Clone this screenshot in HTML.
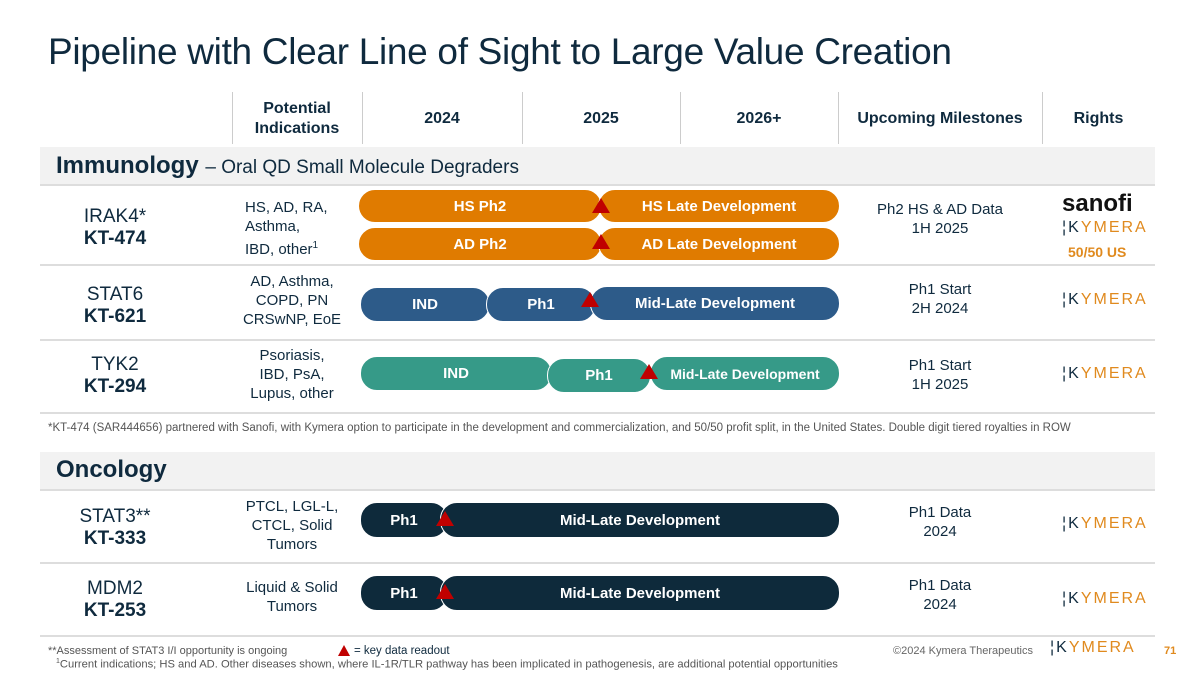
<!DOCTYPE html>
<html><head><meta charset="utf-8"><style>
*{margin:0;padding:0;box-sizing:border-box}
body{width:1200px;height:675px;background:#fff;position:relative;overflow:hidden;font-family:"Liberation Sans",sans-serif;color:#0f2a3e}
.a{position:absolute}
.c{text-align:center}
.hd{font-weight:bold;font-size:16px;line-height:20px;display:flex;align-items:center;justify-content:center;text-align:center}
.vl{position:absolute;width:1px;background:#ccc;top:92px;height:52px}
.hl{position:absolute;left:40px;width:1115px;height:2px;background:#ddd}
.band{position:absolute;left:40px;width:1115px;height:38px;background:#f2f2f2}
.bar{position:absolute;border-radius:17px;border:1.5px solid #fff;color:#fff;font-weight:bold;font-size:15px;display:flex;align-items:center;justify-content:center}
.or{background:#e07b00}.bl{background:#2d5b89}.tl{background:#369a88}.nv{background:#0e2a3b}
.tri{position:absolute;width:0;height:0;border-left:9px solid transparent;border-right:9px solid transparent;border-bottom:15px solid #c00000}
.nm{font-size:19px;line-height:22px;text-align:center}
.ind{font-size:15px;line-height:19px;text-align:center}
.ms{font-size:15px;line-height:19px;text-align:center}
.ky{font-size:16px;letter-spacing:2px;color:#e08a1e}
.ky b{color:#0f2a3e;font-weight:normal}
</style></head><body>
<div class="a" style="left:48px;top:31px;font-size:37px;letter-spacing:-0.3px;color:#0f2a3e">Pipeline with Clear Line of Sight to Large Value Creation</div>

<div class="vl" style="left:232px"></div><div class="vl" style="left:362px"></div><div class="vl" style="left:522px"></div><div class="vl" style="left:680px"></div><div class="vl" style="left:838px"></div><div class="vl" style="left:1042px"></div>
<div class="a hd" style="left:232px;top:96px;width:130px;height:46px">Potential<br>Indications</div>
<div class="a hd" style="left:362px;top:96px;width:160px;height:46px">2024</div>
<div class="a hd" style="left:522px;top:96px;width:158px;height:46px">2025</div>
<div class="a hd" style="left:680px;top:96px;width:158px;height:46px">2026+</div>
<div class="a hd" style="left:838px;top:96px;width:204px;height:46px">Upcoming Milestones</div>
<div class="a hd" style="left:1042px;top:96px;width:113px;height:46px">Rights</div>

<div class="band" style="top:147px"></div>
<div class="a" style="left:56px;top:152px;font-size:24px"><b>Immunology</b> <span style="font-size:19px">– Oral QD Small Molecule Degraders</span></div>
<div class="hl" style="top:184px"></div>

<!-- IRAK4 -->
<div class="a nm" style="left:40px;top:206px;width:150px">IRAK4*<br><b>KT-474</b></div>
<div class="a ind" style="left:245px;top:198px;width:120px;text-align:left">HS, AD, RA,<br>Asthma,<br>IBD, other<sup style="font-size:10px">1</sup></div>
<div class="bar or" style="left:358px;top:189px;width:244px;height:34px">HS Ph2</div>
<div class="bar or" style="left:598px;top:189px;width:242px;height:34px">HS Late Development</div>
<div class="bar or" style="left:358px;top:227px;width:244px;height:34px">AD Ph2</div>
<div class="bar or" style="left:598px;top:227px;width:242px;height:34px">AD Late Development</div>
<div class="tri" style="left:592px;top:198px"></div>
<div class="tri" style="left:592px;top:234px"></div>
<div class="a ms" style="left:838px;top:200px;width:204px">Ph2 HS &amp; AD Data<br>1H 2025</div>
<div class="a" style="left:1062px;top:190px;font-size:24px;font-weight:bold;color:#111">sanofi</div>
<div class="a ky" style="left:1062px;top:219px"><b>¦K</b>YMERA</div>
<div class="a" style="left:1068px;top:244px;font-size:14px;font-weight:bold;color:#e08a1e">50/50 US</div>
<div class="hl" style="top:264px"></div>

<!-- STAT6 -->
<div class="a nm" style="left:40px;top:284px;width:150px">STAT6<br><b>KT-621</b></div>
<div class="a ind" style="left:222px;top:272px;width:140px">AD, Asthma,<br>COPD, PN<br>CRSwNP, EoE</div>
<div class="bar bl" style="left:360px;top:287px;width:130px;height:35px">IND</div>
<div class="bar bl" style="left:486px;top:287px;width:110px;height:35px">Ph1</div>
<div class="bar bl" style="left:590px;top:286px;width:250px;height:35px">Mid-Late Development</div>
<div class="tri" style="left:581px;top:292px"></div>
<div class="a ms" style="left:838px;top:280px;width:204px">Ph1 Start<br>2H 2024</div>
<div class="a ky" style="left:1062px;top:291px"><b>¦K</b>YMERA</div>
<div class="hl" style="top:339px"></div>

<!-- TYK2 -->
<div class="a nm" style="left:40px;top:354px;width:150px">TYK2<br><b>KT-294</b></div>
<div class="a ind" style="left:222px;top:346px;width:140px">Psoriasis,<br>IBD, PsA,<br>Lupus, other</div>
<div class="bar tl" style="left:360px;top:356px;width:192px;height:35px">IND</div>
<div class="bar tl" style="left:547px;top:358px;width:104px;height:35px">Ph1</div>
<div class="bar tl" style="left:650px;top:356px;width:190px;height:35px;font-size:14px">Mid-Late Development</div>
<div class="tri" style="left:640px;top:364px"></div>
<div class="a ms" style="left:838px;top:356px;width:204px">Ph1 Start<br>1H 2025</div>
<div class="a ky" style="left:1062px;top:365px"><b>¦K</b>YMERA</div>
<div class="hl" style="top:412px"></div>

<div class="a" style="left:48px;top:422px;font-size:11.5px;color:#555;white-space:nowrap">*KT-474 (SAR444656) partnered with Sanofi, with Kymera option to participate in the development and commercialization, and 50/50 profit split, in the United States. Double digit tiered royalties in ROW</div>

<div class="band" style="top:452px"></div>
<div class="a" style="left:56px;top:456px;font-size:24px;font-weight:bold">Oncology</div>
<div class="hl" style="top:489px"></div>

<!-- STAT3 -->
<div class="a nm" style="left:40px;top:506px;width:150px">STAT3**<br><b>KT-333</b></div>
<div class="a ind" style="left:222px;top:497px;width:140px">PTCL, LGL-L,<br>CTCL, Solid<br>Tumors</div>
<div class="bar nv" style="left:360px;top:502px;width:88px;height:36px">Ph1</div>
<div class="bar nv" style="left:440px;top:502px;width:400px;height:36px">Mid-Late Development</div>
<div class="tri" style="left:436px;top:511px"></div>
<div class="a ms" style="left:838px;top:503px;width:204px">Ph1 Data<br>2024</div>
<div class="a ky" style="left:1062px;top:515px"><b>¦K</b>YMERA</div>
<div class="hl" style="top:562px"></div>

<!-- MDM2 -->
<div class="a nm" style="left:40px;top:578px;width:150px">MDM2<br><b>KT-253</b></div>
<div class="a ind" style="left:222px;top:578px;width:140px">Liquid &amp; Solid<br>Tumors</div>
<div class="bar nv" style="left:360px;top:575px;width:88px;height:36px">Ph1</div>
<div class="bar nv" style="left:440px;top:575px;width:400px;height:36px">Mid-Late Development</div>
<div class="tri" style="left:436px;top:584px"></div>
<div class="a ms" style="left:838px;top:576px;width:204px">Ph1 Data<br>2024</div>
<div class="a ky" style="left:1062px;top:590px"><b>¦K</b>YMERA</div>
<div class="hl" style="top:635px"></div>

<div class="a" style="left:48px;top:645px;font-size:11px;color:#555">**Assessment of STAT3 I/I opportunity is ongoing</div>
<div class="tri" style="left:338px;top:645px;border-left-width:6px;border-right-width:6px;border-bottom-width:11px"></div>
<div class="a" style="left:354px;top:645px;font-size:11.5px">= key data readout</div>
<div class="a" style="left:56px;top:658px;font-size:11.2px;color:#555;white-space:nowrap"><sup style="font-size:7px">1</sup>Current indications; HS and AD. Other diseases shown, where IL-1R/TLR pathway has been implicated in pathogenesis, are additional potential opportunities</div>
<div class="a" style="left:893px;top:645px;font-size:11px;color:#666">©2024 Kymera Therapeutics</div>
<div class="a ky" style="left:1050px;top:639px"><b>¦K</b>YMERA</div>
<div class="a" style="left:1164px;top:645px;font-size:11px;font-weight:bold;color:#e08a1e">71</div>
</body></html>
